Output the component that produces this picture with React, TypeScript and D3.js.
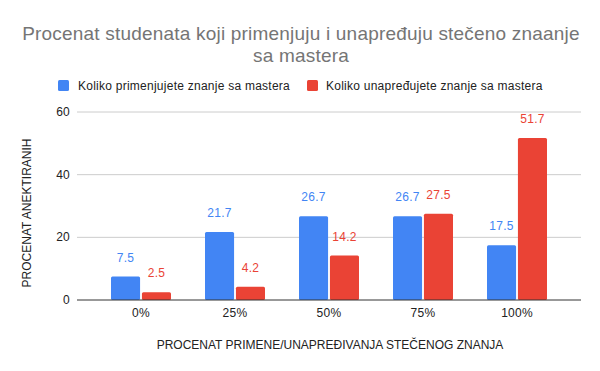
import React from 'react';
import * as d3 from 'd3';

const categories = ['0%', '25%', '50%', '75%', '100%'];
const seriesNames = ['Koliko primenjujete znanje sa mastera', 'Koliko unapređujete znanje sa mastera'];
const primenjujete = [7.5, 21.7, 26.7, 26.7, 17.5];
const unapredjujete = [2.5, 4.2, 14.2, 27.5, 51.7];
const yTicks = [0, 20, 40, 60];
const colors = ['#4285F4', '#EA4335'];

const W = 600;
const H = 371;
const font = '"Liberation Sans", Arial, sans-serif';

const App = () => {
  const plot = { left: 77, right: 581, top: 112, bottom: 300 };
  const series = [primenjujete, unapredjujete];

  // outer scale for categories, inner one for the two series
  const x = d3.scaleBand().domain(categories).range([94, 564]).padding(0);
  const xInner = d3.scaleBand().domain(['0', '1']).range([0, 60]).paddingInner(0.06);
  const y = d3.scaleLinear().domain([0, 60]).range([plot.bottom, plot.top]);

  const small = { fontFamily: font, fontSize: 12, letterSpacing: 0.25 };
  const axisTitle = { fontFamily: font, fontSize: 12 };

  return (
    <svg width={W} height={H} style={{ display: 'block', position: 'absolute', left: 0, top: 0, background: '#fff' }}>
      <rect width={W} height={H} fill="#fff" />
      {/* title */}
      <text x={301} y={40} textAnchor="middle" fontFamily={font} fontSize={19} letterSpacing={0.2} fill="#757575">
        Procenat studenata koji primenjuju i unapređuju stečeno znaanje
      </text>
      <text x={301} y={62} textAnchor="middle" fontFamily={font} fontSize={19} letterSpacing={0.2} fill="#757575">
        sa mastera
      </text>

      {/* legend */}
      <rect x={58} y={80} width={11} height={11} rx={1.5} fill={colors[0]} />
      <text x={78} y={90} {...small} fill="#222">{seriesNames[0]}</text>
      <rect x={307} y={80} width={11} height={11} rx={1.5} fill={colors[1]} />
      <text x={326} y={90} {...small} fill="#222">{seriesNames[1]}</text>

      {/* gridlines and y ticks */}
      {yTicks.map(t => (
        <g key={t}>
          {t !== 0 && <line x1={plot.left} x2={plot.right} y1={y(t)} y2={y(t)} stroke="#cccccc" strokeWidth={1} />}
          <text x={70} y={y(t) + 4} textAnchor="end" {...small} fill="#222">{t}</text>
        </g>
      ))}

      {/* bars */}
      {categories.map((c, i) => {
        const gx = x(c)! + (x.bandwidth() - 60) / 2;
        return series.map((vals, s) => {
          const bx = gx + xInner(String(s))!;
          const bw = xInner.bandwidth();
          const v = vals[i];
          return (
            <g key={c + s}>
              <rect x={bx} y={y(v)} width={bw} height={y(0) - y(v)} rx={1.5} fill={colors[s]} />
              <text x={bx + bw / 2} y={y(v) - 15} textAnchor="middle" {...small} fill={colors[s]}>
                {v}
              </text>
            </g>
          );
        });
      })}

      {/* baseline */}
      <line x1={plot.left} x2={plot.right} y1={y(0)} y2={y(0)} stroke="#333" strokeWidth={1} />

      {/* x ticks */}
      {categories.map(c => (
        <text key={c} x={x(c)! + x.bandwidth() / 2} y={317} textAnchor="middle" {...small} fill="#222">
          {c}
        </text>
      ))}

      {/* axis titles */}
      <text x={330} y={349} textAnchor="middle" {...axisTitle} fill="#222">
        PROCENAT PRIMENE/UNAPREĐIVANJA STEČENOG ZNANJA
      </text>
      <text transform={`translate(31,213) rotate(-90)`} textAnchor="middle" {...axisTitle} fill="#222">
        PROCENAT ANEKTIRANIH
      </text>
    </svg>
  );
};

export default App;
